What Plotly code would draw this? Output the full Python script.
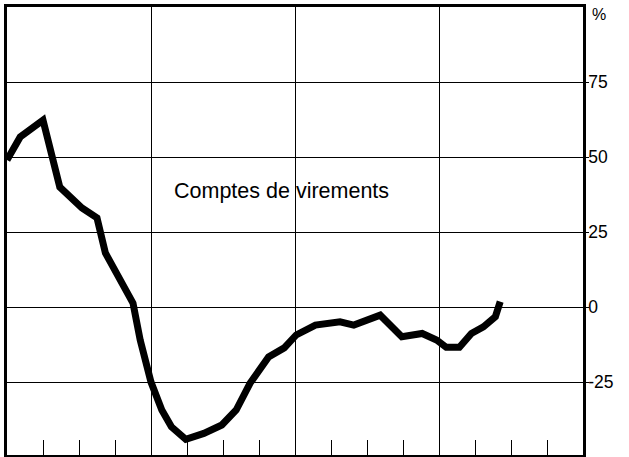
import plotly.graph_objects as go

# Data (x in months from start of the period, y in %)
months = [0, 1.1, 3.0, 4.4, 6.25, 7.5, 8.2, 10.5, 11.1, 12.0, 12.9, 13.7, 14.9,
          16.4, 17.9, 19.1, 20.25, 21.8, 23.1, 24.1, 25.7, 27.75, 28.9, 31.1,
          32.9, 34.6, 35.8, 36.6, 37.7, 38.7, 39.7, 40.7, 41.1]
values = [49, 56.7, 62.3, 40, 33, 29.7, 18, 1.3, -11, -25, -34.3, -39.9, -44.1,
          -42.1, -39.3, -34.3, -25.4, -16.6, -13.6, -9.3, -6, -4.9, -6, -2.7,
          -9.9, -8.8, -11, -13.4, -13.4, -8.8, -6.6, -3.2, 1.8]

y_tickvals = [-25, 0, 25, 50, 75]
y_ticktext = ["-25", "0", "25", "50", "75"]
series_label = "Comptes de virements"
unit_label = "%"

FONT = "Liberation Sans, Arial, Helvetica, sans-serif"

fig = go.Figure()
fig.add_trace(go.Scatter(
    x=months, y=values, mode="lines",
    line=dict(color="black", width=7, shape="linear"),
    showlegend=False, hoverinfo="skip",
))

fig.add_annotation(x=22.9, y=38.7, text=series_label, showarrow=False,
                   font=dict(family=FONT, size=21.5, color="black"),
                   xanchor="center", yanchor="middle")
fig.add_annotation(x=1.0, xref="paper", y=97.5, yref="y", text=unit_label,
                   showarrow=False, xanchor="left", yanchor="middle", xshift=7,
                   font=dict(family=FONT, size=16, color="black"))

fig.update_xaxes(
    range=[0, 48], dtick=12, tick0=0,
    showgrid=True, gridcolor="black", gridwidth=1,
    showticklabels=False, ticks="",
    minor=dict(dtick=3, tick0=0, ticks="inside", ticklen=15, tickwidth=1.3,
               tickcolor="black", showgrid=False),
    showline=True, linecolor="black", linewidth=2.5, mirror=True,
    zeroline=False,
)
fig.update_yaxes(
    range=[-49.3, 100], side="right",
    tickvals=y_tickvals, ticktext=y_ticktext,
    showgrid=True, gridcolor="black", gridwidth=1,
    ticks="outside", ticklen=3, tickcolor="black", tickwidth=1,
    ticklabelstandoff=-4,
    tickfont=dict(family=FONT, size=17.5, color="black"),
    showline=True, linecolor="black", linewidth=2.5, mirror=True,
    zeroline=False,
)

fig.update_layout(
    width=629, height=457,
    margin=dict(l=7, r=46, t=7, b=2),
    paper_bgcolor="white", plot_bgcolor="white",
    font=dict(family=FONT, color="black"),
)

fig.write_html("out.html", config={"displayModeBar": False},
               post_script="document.body.style.margin='0';document.body.style.overflow='hidden';")
